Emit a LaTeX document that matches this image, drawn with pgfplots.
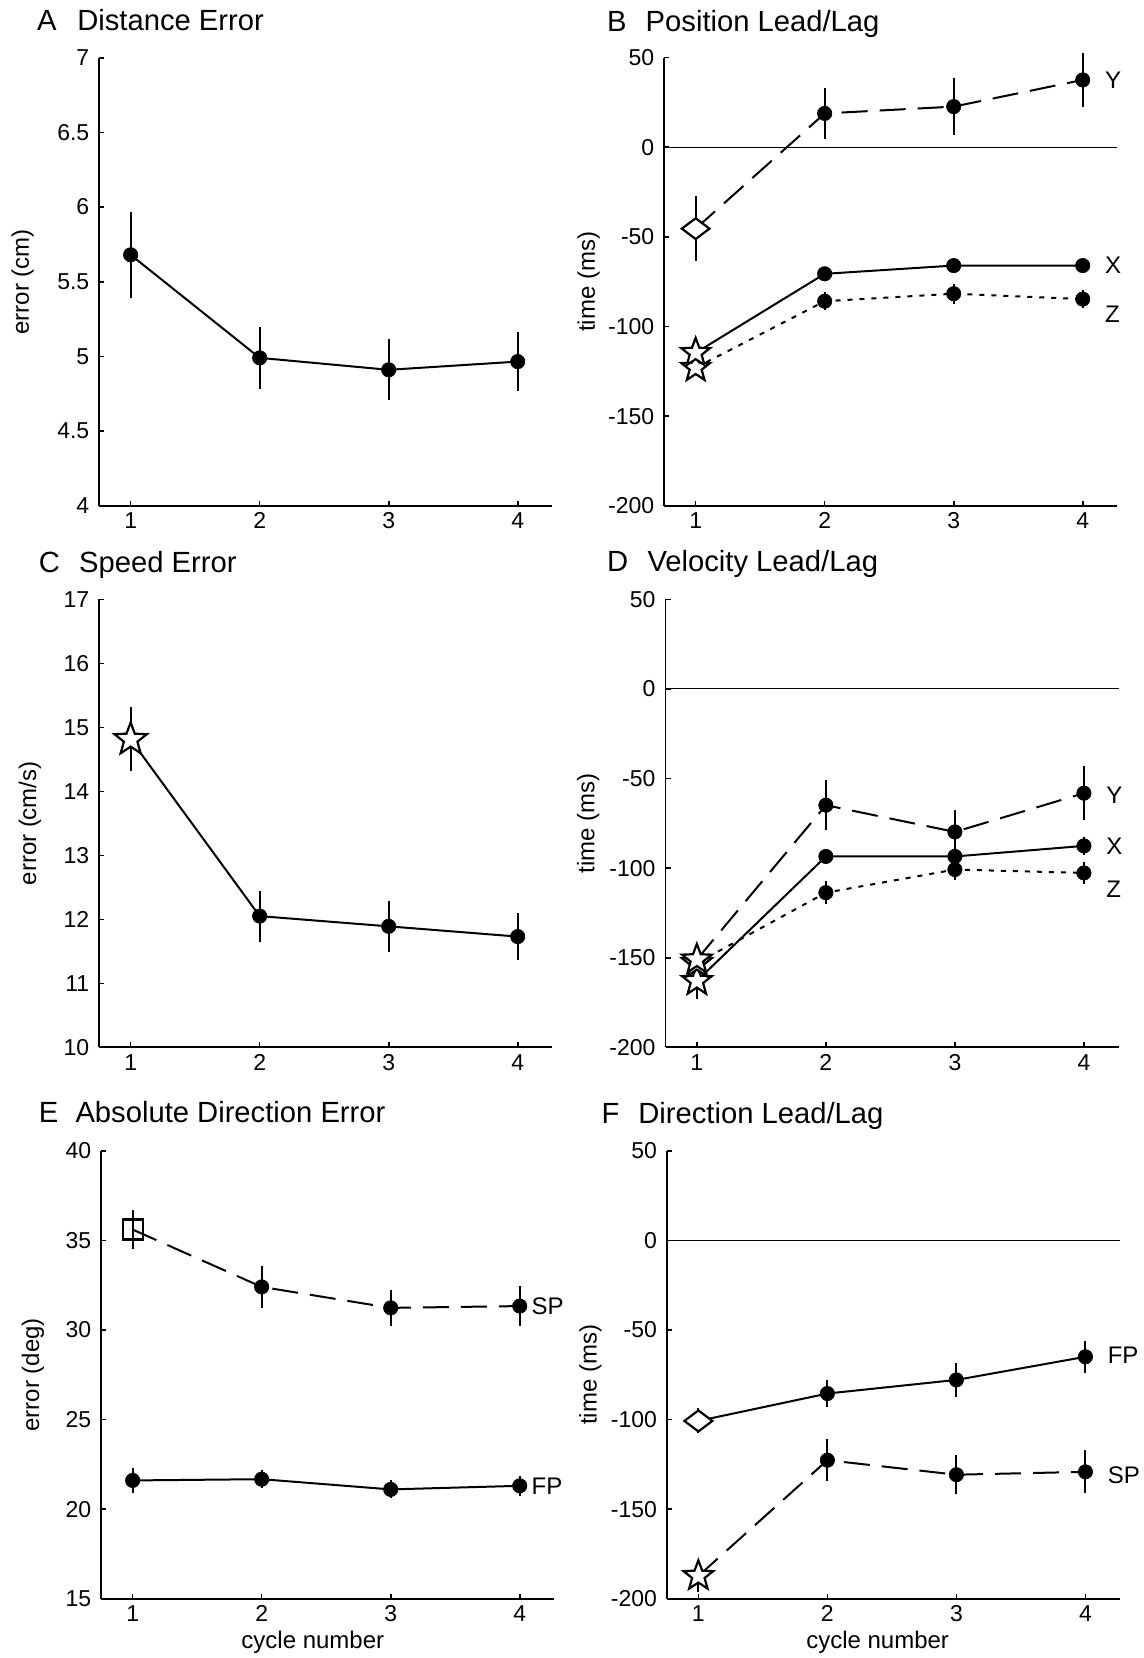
\documentclass[border=0pt]{standalone}
\usepackage{fontspec}
\setmainfont{Liberation Sans}
\usepackage{pgfplots}
\usepackage{pgfplotstable}
\pgfplotsset{compat=1.18}

\pgfdeclareplotmark{ostar}{%
  \pgfpathmoveto{\pgfpointpolar{90}{\pgfplotmarksize}}%
  \pgfpathlineto{\pgfpointpolar{126}{0.42\pgfplotmarksize}}%
  \pgfpathlineto{\pgfpointpolar{162}{\pgfplotmarksize}}%
  \pgfpathlineto{\pgfpointpolar{198}{0.42\pgfplotmarksize}}%
  \pgfpathlineto{\pgfpointpolar{234}{\pgfplotmarksize}}%
  \pgfpathlineto{\pgfpointpolar{270}{0.42\pgfplotmarksize}}%
  \pgfpathlineto{\pgfpointpolar{306}{\pgfplotmarksize}}%
  \pgfpathlineto{\pgfpointpolar{342}{0.42\pgfplotmarksize}}%
  \pgfpathlineto{\pgfpointpolar{18}{\pgfplotmarksize}}%
  \pgfpathlineto{\pgfpointpolar{54}{0.42\pgfplotmarksize}}%
  \pgfpathclose
  \pgfusepathqfillstroke
}
\pgfdeclareplotmark{wdiamond}{%
  \pgfpathmoveto{\pgfqpoint{0pt}{0.75\pgfplotmarksize}}%
  \pgfpathlineto{\pgfqpoint{\pgfplotmarksize}{0pt}}%
  \pgfpathlineto{\pgfqpoint{0pt}{-0.75\pgfplotmarksize}}%
  \pgfpathlineto{\pgfqpoint{-\pgfplotmarksize}{0pt}}%
  \pgfpathclose
  \pgfusepathqfillstroke
}

\pgfplotstableread{
x y e
1 5.68 0.29
2 4.99 0.21
3 4.91 0.205
4 4.965 0.20
}\tabA
\pgfplotstableread{
x y e
1 -45.4 18
2 18.9 14.3
3 22.7 16
4 37.6 15
}\tabBY
\pgfplotstableread{
x y e
1 -114.7 3
2 -70.6 3
3 -66 2.5
4 -66 2.5
}\tabBX
\pgfplotstableread{
x y e
1 -123 3
2 -85.9 5
3 -81.7 5.5
4 -84.7 5
}\tabBZ
\pgfplotstableread{
x y e
1 14.81 0.5
2 12.05 0.4
3 11.89 0.4
4 11.73 0.37
}\tabC
\pgfplotstableread{
x y e
1 -151 4
2 -64.9 14
3 -79.8 12
4 -58.2 15
}\tabDY
\pgfplotstableread{
x y e
1 -163 10
2 -93.5 3.5
3 -93.5 4
4 -87.6 5
}\tabDX
\pgfplotstableread{
x y e
1 -153 4
2 -113.7 6.5
3 -100.8 6
4 -102.7 6
}\tabDZ
\pgfplotstableread{
x y e
1 35.6 1.1
2 32.4 1.15
3 31.23 1.0
4 31.33 1.1
}\tabESP
\pgfplotstableread{
x y e
1 21.6 0.7
2 21.67 0.5
3 21.1 0.5
4 21.3 0.55
}\tabEFP
\pgfplotstableread{
x y e
1 -100.8 7
2 -85.5 7.3
3 -77.9 9.3
4 -65 9
}\tabFFP
\pgfplotstableread{
x y e
1 -187.3 9
2 -122.7 11.6
3 -130.8 11
4 -129.2 12
}\tabFSP

\pgfplotsset{
  panel/.style={
    scale only axis, width=226.5pt, height=224pt,
    axis lines=left, axis line style={-, line width=0.85pt},
    tick align=inside, major tick length=2.5pt,
    tick style={line width=0.8pt, black},
    xmin=0.757, xmax=4.268, xtick={1,2,3,4}, xticklabels={1,2,3,4},
    ticklabel style={font=\fontsize{11.5}{13}\selectfont},
    yticklabel style={xshift=-1.5pt},
    label style={font=\fontsize{12}{14}\selectfont},
    clip=false, anchor=south west,
  },
  ebar/.style={error bars/.cd, y dir=both, y explicit, error mark=none,
    error bar style={line width=1pt, solid, black}},
  sline/.style={black, line width=1pt, solid, mark=none},
  dline/.style={black, line width=1pt, dash pattern=on 13pt off 6pt, mark=none},
  zline/.style={black, line width=1pt, dash pattern=on 2.5pt off 3.5pt, mark=none},
  fmark/.style={only marks, mark=*, mark size=3.6pt, mark options={solid, fill=black, draw=black, line width=0.3pt}},
  omark/.style={only marks, mark options={solid, fill=white, draw=black, line width=1.1pt}},
}
\newcommand{\ttlfont}{\fontsize{14.6}{18}\selectfont}
\newcommand{\serfont}{\fontsize{12}{14}\selectfont}

\begin{document}
\begin{tikzpicture}
\path (0,0) rectangle (572pt,-829pt);

% titles
\node[anchor=base west, inner sep=0, font=\ttlfont] at (18.3pt,-15.5pt) {A};
\node[anchor=base west, inner sep=0, font=\ttlfont] at (38.45pt,-15.5pt) {Distance Error};
\node[anchor=base west, inner sep=0, font=\ttlfont] at (303.4pt,-15.8pt) {B};
\node[anchor=base west, inner sep=0, font=\ttlfont] at (322.65pt,-15.8pt) {Position Lead/Lag};
\node[anchor=base west, inner sep=0, font=\ttlfont] at (19.25pt,-286pt) {C};
\node[anchor=base west, inner sep=0, font=\ttlfont] at (39.4pt,-286pt) {Speed Error};
\node[anchor=base west, inner sep=0, font=\ttlfont] at (303.4pt,-285.8pt) {D};
\node[anchor=base west, inner sep=0, font=\ttlfont] at (323.55pt,-285.8pt) {Velocity Lead/Lag};
\node[anchor=base west, inner sep=0, font=\ttlfont] at (19.25pt,-561pt) {E};
\node[anchor=base west, inner sep=0, font=\ttlfont] at (37.55pt,-561pt) {Absolute Direction Error};
\node[anchor=base west, inner sep=0, font=\ttlfont] at (300.65pt,-561.5pt) {F};
\node[anchor=base west, inner sep=0, font=\ttlfont] at (318.95pt,-561.5pt) {Direction Lead/Lag};

% A
\begin{axis}[panel, at={(49.65pt,-252.85pt)},
  ymin=4, ymax=7, ytick={4,4.5,5,5.5,6,6.5,7}, yticklabels={4,4.5,5,5.5,6,6.5,7},
  ylabel={error (cm)}, ylabel style={at={(axis description cs:-0.169,0.5)}, anchor=center}]
\addplot[sline, ebar] table[x=x, y=y, y error=e] {\tabA};
\addplot[fmark] table[x=x, y=y] {\tabA};
\end{axis}

% B
\begin{axis}[panel, at={(332.15pt,-252.85pt)},
  ymin=-200, ymax=50, ytick={-200,-150,-100,-50,0,50}, yticklabels={-200,-150,-100,-50,0,50},
  ylabel={time (ms)}, ylabel style={at={(axis description cs:-0.167,0.5)}, anchor=center}]
\draw[line width=0.5pt] (axis cs:0.757,0) -- (axis cs:4.268,0);
\addplot[dline, ebar] table[x=x, y=y, y error=e] {\tabBY};
\addplot[sline, ebar] table[x=x, y=y, y error=e] {\tabBX};
\addplot[zline, ebar] table[x=x, y=y, y error=e] {\tabBZ};
\addplot[fmark, skip coords between index={0}{1}] table[x=x, y=y] {\tabBY};
\addplot[fmark, skip coords between index={0}{1}] table[x=x, y=y] {\tabBX};
\addplot[fmark, skip coords between index={0}{1}] table[x=x, y=y] {\tabBZ};
\addplot[omark, mark=wdiamond, mark size=6.9pt, skip coords between index={1}{4}] table[x=x, y=y] {\tabBY};
\addplot[omark, mark=ostar, mark size=7.5pt, skip coords between index={1}{4}] table[x=x, y=y] {\tabBZ};
\addplot[omark, mark=ostar, mark size=7.5pt, skip coords between index={1}{4}] table[x=x, y=y] {\tabBX};
\node[anchor=west, inner sep=0, font=\serfont] at (axis cs:4.17,37.6) {Y};
\node[anchor=west, inner sep=0, font=\serfont] at (axis cs:4.17,-66) {X};
\node[anchor=west, inner sep=0, font=\serfont] at (axis cs:4.17,-93) {Z};
\end{axis}

% C
\begin{axis}[panel, at={(49.65pt,-523.65pt)},
  ymin=10, ymax=17, ytick={10,11,12,13,14,15,16,17}, yticklabels={10,11,12,13,14,15,16,17},
  ylabel={error (cm/s)}, ylabel style={at={(axis description cs:-0.153,0.5)}, anchor=center}]
\addplot[sline, ebar] table[x=x, y=y, y error=e] {\tabC};
\addplot[fmark, skip coords between index={0}{1}] table[x=x, y=y] {\tabC};
\addplot[omark, mark=ostar, mark size=8.5pt, skip coords between index={1}{4}] table[x=x, y=y] {\tabC};
\end{axis}

% D
\begin{axis}[panel, at={(332.75pt,-523.65pt)},
  ymin=-200, ymax=50, ytick={-200,-150,-100,-50,0,50}, yticklabels={-200,-150,-100,-50,0,50},
  ylabel={time (ms)}, ylabel style={at={(axis description cs:-0.171,0.5)}, anchor=center}]
\draw[line width=0.5pt] (axis cs:0.757,0) -- (axis cs:4.268,0);
\addplot[dline, ebar] table[x=x, y=y, y error=e] {\tabDY};
\addplot[sline, ebar] table[x=x, y=y, y error=e] {\tabDX};
\addplot[zline, ebar] table[x=x, y=y, y error=e] {\tabDZ};
\addplot[fmark, skip coords between index={0}{1}] table[x=x, y=y] {\tabDY};
\addplot[fmark, skip coords between index={0}{1}] table[x=x, y=y] {\tabDX};
\addplot[fmark, skip coords between index={0}{1}] table[x=x, y=y] {\tabDZ};
\addplot[omark, mark=ostar, mark size=7.8pt, skip coords between index={1}{4}] table[x=x, y=y] {\tabDX};
\addplot[omark, mark=ostar, mark size=7.8pt, skip coords between index={1}{4}] table[x=x, y=y] {\tabDZ};
\addplot[omark, mark=ostar, mark size=7.8pt, skip coords between index={1}{4}] table[x=x, y=y] {\tabDY};
\node[anchor=west, inner sep=0, font=\serfont] at (axis cs:4.17,-59.4) {Y};
\node[anchor=west, inner sep=0, font=\serfont] at (axis cs:4.17,-88) {X};
\node[anchor=west, inner sep=0, font=\serfont] at (axis cs:4.17,-112) {Z};
\end{axis}

% E
\begin{axis}[panel, at={(50.65pt,-799.35pt)},
  ymin=15, ymax=40, ytick={15,20,25,30,35,40}, yticklabels={15,20,25,30,35,40},
  ylabel={error (deg)}, ylabel style={at={(axis description cs:-0.151,0.5)}, anchor=center},
  xlabel={cycle number}, xlabel style={at={(axis description cs:0.467,-0.072)}, anchor=north, inner sep=0}]
\addplot[dline, ebar] table[x=x, y=y, y error=e] {\tabESP};
\addplot[sline, ebar] table[x=x, y=y, y error=e] {\tabEFP};
\addplot[fmark, skip coords between index={0}{1}] table[x=x, y=y] {\tabESP};
\addplot[fmark] table[x=x, y=y] {\tabEFP};
\addplot[omark, mark=square, mark size=5pt, skip coords between index={1}{4}] table[x=x, y=y] {\tabESP};
\node[anchor=west, inner sep=0, font=\serfont] at (axis cs:4.09,31.33) {SP};
\node[anchor=west, inner sep=0, font=\serfont] at (axis cs:4.09,21.3) {FP};
\end{axis}

% F
\begin{axis}[panel, at={(333.5pt,-799.35pt)},
  ymin=-200, ymax=50, ytick={-200,-150,-100,-50,0,50}, yticklabels={-200,-150,-100,-50,0,50},
  ylabel={time (ms)}, ylabel style={at={(axis description cs:-0.169,0.5)}, anchor=center},
  xlabel={cycle number}, xlabel style={at={(axis description cs:0.465,-0.072)}, anchor=north, inner sep=0}]
\draw[line width=0.5pt] (axis cs:0.757,0) -- (axis cs:4.268,0);
\addplot[sline, ebar] table[x=x, y=y, y error=e] {\tabFFP};
\addplot[dline, ebar] table[x=x, y=y, y error=e] {\tabFSP};
\addplot[fmark, skip coords between index={0}{1}] table[x=x, y=y] {\tabFFP};
\addplot[fmark, skip coords between index={0}{1}] table[x=x, y=y] {\tabFSP};
\addplot[omark, mark=wdiamond, mark size=7pt, skip coords between index={1}{4}] table[x=x, y=y] {\tabFFP};
\addplot[omark, mark=ostar, mark size=7.8pt, skip coords between index={1}{4}] table[x=x, y=y] {\tabFSP};
\node[anchor=west, inner sep=0, font=\serfont] at (axis cs:4.17,-64) {FP};
\node[anchor=west, inner sep=0, font=\serfont] at (axis cs:4.17,-131) {SP};
\end{axis}
\end{tikzpicture}
\end{document}
